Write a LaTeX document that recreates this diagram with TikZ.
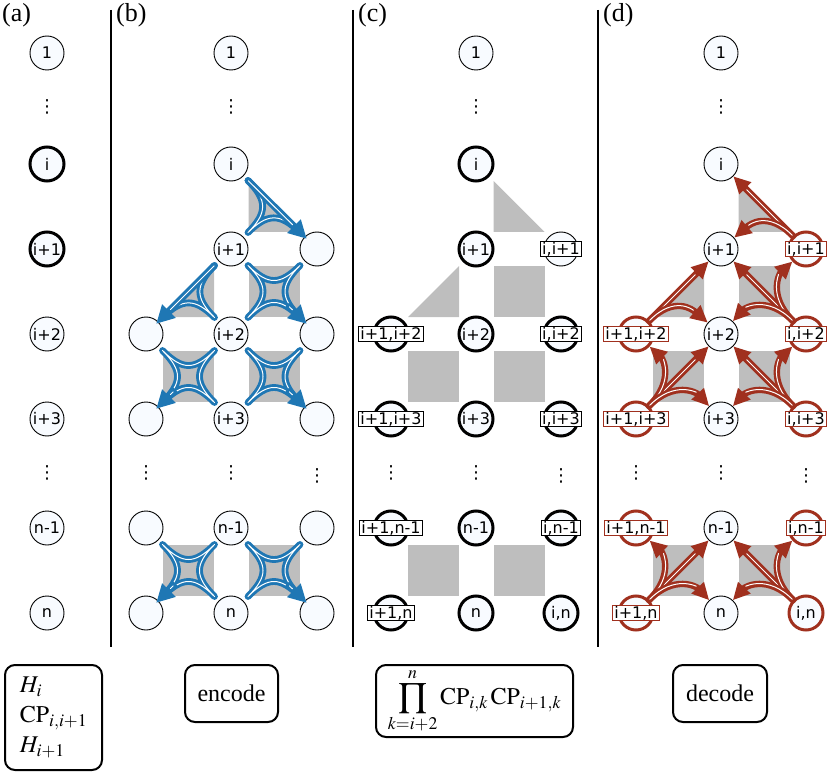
\documentclass[tikz,border=0pt]{standalone}
\usepackage{mathptmx}
\usepackage{fontspec}
\setmainfont{Liberation Serif}
\newfontfamily\qfont{DejaVu Sans}
\usetikzlibrary{arrows.meta}

\definecolor{encblue}{RGB}{31,119,180}
\definecolor{decred}{RGB}{160,48,30}
\definecolor{cellgray}{RGB}{190,190,190}
\definecolor{qfill}{RGB}{248,251,255}

\tikzset{
  qubit/.style={circle, draw=black, fill=qfill, line width=0.9pt, minimum size=34pt,
    inner sep=0pt, font=\qfont\fontsize{16}{18}\selectfont},
  heavyq/.style={qubit, line width=3pt},
  redq/.style={qubit, draw=decred, line width=3pt},
  pairlbl/.style={rectangle, draw=black, fill=white, line width=0.9pt,
    inner xsep=2pt, inner ysep=0.6pt, font=\qfont\fontsize{16}{18}\selectfont},
  redlbl/.style={pairlbl, draw=decred, line width=1.1pt},
  gap/.style={inner sep=0pt, font=\qfont\fontsize{18}{18}\selectfont},
  panel/.style={anchor=north west, inner sep=0pt, font=\fontsize{26}{26}\selectfont},
  divider/.style={line width=1.5pt},
  opbox/.style={draw, rounded corners=10pt, line width=2pt, inner sep=0pt,
    font=\fontsize{24}{30}\selectfont},
  bgate/.style={draw=encblue, double=white, line width=2.9pt, double distance=1pt,
    line join=round, line cap=round},
  barrow/.style={draw=encblue, line width=6.8pt, line cap=round,
    -{Triangle[length=18pt,width=18pt]}, shorten >=-3pt,
    postaction={draw=white, line width=1pt, -, shorten >=17pt, shorten <=0.5pt}},
  rarrow/.style={draw=decred, line width=6.4pt, line cap=round,
    -{Triangle[length=17pt,width=16pt]},
    postaction={draw=white, line width=1pt, -, shorten >=19pt, shorten <=1pt}}
}

\begin{document}
\begin{tikzpicture}[x=1pt, y=-1pt]
\useasboundingbox (0,0) rectangle (830,778);

% panel titles and dividers
\node[panel] (ta) at (2,3) {(a)};
\node[panel] (tb) at (116,3) {(b)};
\node[panel] (tc) at (358,3) {(c)};
\node[panel] (td) at (603,3) {(d)};
\draw[divider] (111,10) -- (111,647);
\draw[divider] (353,10) -- (353,647);
\draw[divider] (598,10) -- (598,647);

% (a)
\node[qubit] (a1) at (47,53) {1};
\node[gap] (adots1) at (47,107) {⋮};
\node[heavyq] (ai) at (47,164) {i};
\node[heavyq] (ai1) at (47,249) {i+1};
\node[qubit] (ai2) at (47,334) {i+2};
\node[qubit] (ai3) at (47,419) {i+3};
\node[gap] (adots2) at (47,473) {⋮};
\node[qubit] (an1) at (47,528) {n-1};
\node[qubit] (an) at (47,613) {n};

% (b)
\node[qubit] (bM1) at (231,53) {1};
\node[gap] (bMdots1) at (231,107) {⋮};
\node[qubit] (bMi) at (231,164) {i};
\node[qubit] (bMi1) at (231,249) {i+1};
\node[qubit] (bMi2) at (231,334) {i+2};
\node[qubit] (bMi3) at (231,419) {i+3};
\node[gap] (bMdots2) at (231,473) {⋮};
\node[qubit] (bMn1) at (231,528) {n-1};
\node[qubit] (bMn) at (231,613) {n};
\node[qubit] (bLi2) at (146,334) {};
\node[qubit] (bLi3) at (146,419) {};
\node[gap] (bLdots) at (146,473) {⋮};
\node[qubit] (bLn1) at (146,528) {};
\node[qubit] (bLn) at (146,613) {};
\node[qubit] (bRi1) at (317,249) {};
\node[qubit] (bRi2) at (317,334) {};
\node[qubit] (bRi3) at (317,419) {};
\node[gap] (bRdots) at (317,476) {⋮};
\node[qubit] (bRn1) at (317,528) {};
\node[qubit] (bRn) at (317,613) {};

% (c)
\node[qubit] (cM1) at (476,53) {1};
\node[gap] (cMdots1) at (476,107) {⋮};
\node[heavyq] (cMi) at (476,164) {i};
\node[heavyq] (cMi1) at (476,249) {i+1};
\node[heavyq] (cMi2) at (476,334) {i+2};
\node[heavyq] (cMi3) at (476,419) {i+3};
\node[gap] (cMdots2) at (476,473) {⋮};
\node[heavyq] (cMn1) at (476,528) {n-1};
\node[heavyq] (cMn) at (476,613) {n};
\node[heavyq] (cLi2) at (391,334) {};
\node[heavyq] (cLi3) at (391,419) {};
\node[gap] (cLdots) at (391,473) {⋮};
\node[heavyq] (cLn1) at (391,528) {};
\node[heavyq] (cLn) at (391,613) {};
\node[qubit] (cRi1) at (561,249) {};
\node[heavyq] (cRi2) at (561,334) {};
\node[heavyq] (cRi3) at (561,419) {};
\node[gap] (cRdots) at (561,476) {⋮};
\node[heavyq] (cRn1) at (561,528) {};
\node[heavyq] (cRn) at (561,613) {i,n};

% (d)
\node[qubit] (dM1) at (721,53) {1};
\node[gap] (dMdots1) at (721,107) {⋮};
\node[qubit] (dMi) at (721,164) {i};
\node[qubit] (dMi1) at (721,249) {i+1};
\node[qubit] (dMi2) at (721,334) {i+2};
\node[qubit] (dMi3) at (721,419) {i+3};
\node[gap] (dMdots2) at (721,473) {⋮};
\node[qubit] (dMn1) at (721,528) {n-1};
\node[qubit] (dMn) at (721,613) {n};
\node[redq] (dLi2) at (636,334) {};
\node[redq] (dLi3) at (636,419) {};
\node[gap] (dLdots) at (636,473) {⋮};
\node[redq] (dLn1) at (636,528) {};
\node[redq] (dLn) at (636,613) {};
\node[redq] (dRi1) at (806,249) {};
\node[redq] (dRi2) at (806,334) {};
\node[redq] (dRi3) at (806,419) {};
\node[gap] (dRdots) at (806,476) {⋮};
\node[redq] (dRn1) at (806,528) {};
\node[redq] (dRn) at (806,613) {i,n};

% gray cells, same in (b), (c), (d)
\foreach \px in {0,245,490} {
  \begin{scope}[xshift=\px pt]
    \fill[cellgray] (248.5,181) -- (248.5,232) -- (299.5,232) -- cycle;
    \fill[cellgray] (214,266) -- (214,317) -- (163,317) -- cycle;
    \fill[cellgray] (248.5,266) rectangle (299.5,317);
    \fill[cellgray] (163,351) rectangle (214,402);
    \fill[cellgray] (248.5,351) rectangle (299.5,402);
    \fill[cellgray] (163,545) rectangle (214,596);
    \fill[cellgray] (248.5,545) rectangle (299.5,596);
  \end{scope}
}

% (b) encode gates
\begin{scope}[shift={(274,206.5)}]
  \draw[bgate] (-26,-26) .. controls (-6,-6) and (-7,7) .. (-26,26)
    .. controls (-7,7) and (6,6) .. (26,26);
  \coordinate (bt1) at (-26,-26);
\end{scope}
\draw[barrow] (bt1) -- (bRi1);
\begin{scope}[shift={(188.5,291.5)}, xscale=-1]
  \draw[bgate] (-26,-26) .. controls (-6,-6) and (-7,7) .. (-26,26)
    .. controls (-7,7) and (6,6) .. (26,26);
  \coordinate (bt2) at (-26,-26);
\end{scope}
\draw[barrow] (bt2) -- (bLi2);
\foreach \cx/\cy/\s/\qt in {274/291.5/1/bRi2, 188.5/376.5/-1/bLi3, 274/376.5/1/bRi3,
    188.5/570.5/-1/bLn, 274/570.5/1/bRn} {
  \begin{scope}[shift={(\cx,\cy)}, xscale=\s]
    \draw[bgate] (-26,-26) .. controls (-6,-6) and (6,-6) .. (26,-26)
      .. controls (6,-6) and (6,6) .. (26,26)
      .. controls (6,6) and (-6,6) .. (-26,26)
      .. controls (-6,6) and (-6,-6) .. cycle;
    \coordinate (btail) at (15,15);
  \end{scope}
  \draw[barrow] (btail) -- (\qt);
}

% (d) decode gates
\begin{scope}[shift={(763.5,206.5)}]
  \draw[rarrow] (dRi1) -- (dMi);
  \draw[rarrow] (dRi1) .. controls (4,4) and (-14,18) .. (dMi1);
\end{scope}
\begin{scope}[shift={(678.5,291.5)}, xscale=-1]
  \draw[rarrow] (dLi2) -- (dMi1);
  \draw[rarrow] (dLi2) .. controls (4,4) and (-14,18) .. (dMi2);
\end{scope}
\foreach \cx/\cy/\s/\qa/\qb/\qc/\qd in {763.5/291.5/1/dRi2/dMi1/dRi1/dMi2,
    678.5/376.5/-1/dLi3/dMi2/dLi2/dMi3, 763.5/376.5/1/dRi3/dMi2/dRi2/dMi3,
    678.5/570.5/-1/dLn/dMn1/dLn1/dMn, 763.5/570.5/1/dRn/dMn1/dRn1/dMn} {
  \begin{scope}[shift={(\cx,\cy)}, xscale=\s]
    \draw[rarrow] (\qa) -- (\qb);
    \draw[rarrow] (\qa) .. controls (4,4) and (16,-18) .. (\qc);
    \draw[rarrow] (\qa) .. controls (4,4) and (-18,16) .. (\qd);
  \end{scope}
}

% pair labels
\node[pairlbl] (cLi2t) at (cLi2) {i+1,i+2};
\node[pairlbl] (cLi3t) at (cLi3) {i+1,i+3};
\node[pairlbl] (cLn1t) at (cLn1) {i+1,n-1};
\node[pairlbl] (cLnt) at (cLn) {i+1,n};
\node[pairlbl] (cRi1t) at (cRi1) {i,i+1};
\node[pairlbl] (cRi2t) at (cRi2) {i,i+2};
\node[pairlbl] (cRi3t) at (cRi3) {i,i+3};
\node[pairlbl] (cRn1t) at (cRn1) {i,n-1};
\node[redlbl] (dLi2t) at (dLi2) {i+1,i+2};
\node[redlbl] (dLi3t) at (dLi3) {i+1,i+3};
\node[redlbl] (dLn1t) at (dLn1) {i+1,n-1};
\node[redlbl] (dLnt) at (dLn) {i+1,n};
\node[redlbl] (dRi1t) at (dRi1) {i,i+1};
\node[redlbl] (dRi2t) at (dRi2) {i,i+2};
\node[redlbl] (dRi3t) at (dRi3) {i,i+3};
\node[redlbl] (dRn1t) at (dRn1) {i,n-1};

% operation boxes
\node[opbox, minimum width=97pt, minimum height=105pt, align=left] (opa) at (53.5,717.5)
  {$H_i$\\$\mathrm{CP}_{i,i+1}$\\$H_{i+1}$};
\node[opbox, minimum width=93pt, minimum height=57pt] (openc) at (231.5,693.5) {encode};
\node[opbox, minimum width=197pt, minimum height=72pt] (opprod) at (474.5,701)
  {$\displaystyle\prod_{k=i+2}^{n}\mathrm{CP}_{i,k}\,\mathrm{CP}_{i+1,k}$};
\node[opbox, minimum width=94pt, minimum height=57pt] (opdec) at (720,693.5) {decode};
\end{tikzpicture}
\end{document}
